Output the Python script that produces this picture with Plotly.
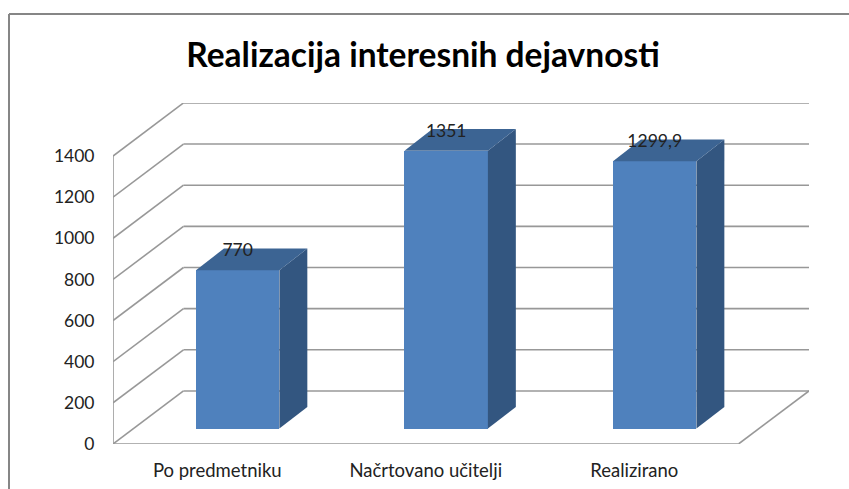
import plotly.graph_objects as go

# Data
categories = ["Po predmetniku", "Načrtovano učitelji", "Realizirano"]
values = [770, 1351, 1299.9]
value_labels = ["770", "1351", "1299,9"]
y_ticks = [0, 200, 400, 600, 800, 1000, 1200, 1400]

# Pseudo-3D projection, in axis units
WALL_DX = 0.338      # back wall shift along x (category units)
WALL_DY = 258        # back wall shift along y (value units)
BAR_DX = 0.098       # bar front plane offset from the axis plane
BAR_DY = 75
BAR_W = 0.40
DEPTH_DX = 0.134
DEPTH_DY = 105
LABEL_DY = 88
GRID = "#989898"
FRONT = "#4F81BD"
TOP = "#3C6493"
SIDE = "#335680"
TEXT = "#222222"
FONT = "Lato, Carlito, Calibri, sans-serif"

W, H = 849, 489
L, R, T, B = 113, 809, 103, 444
x0, x1 = -0.5, 2.5

fig = go.Figure()

# Front faces
fig.add_trace(go.Bar(
    x=[i + BAR_DX for i in range(3)], y=values, base=[BAR_DY] * 3,
    width=BAR_W, marker=dict(color=FRONT, line=dict(width=0)),
    hoverinfo="skip", showlegend=False,
))

# Side and top faces
for i, v in enumerate(values):
    xl = i + BAR_DX - BAR_W / 2
    xr = i + BAR_DX + BAR_W / 2
    b = BAR_DY
    t = BAR_DY + v
    fig.add_trace(go.Scatter(
        x=[xr, xr + DEPTH_DX, xr + DEPTH_DX, xr, xr],
        y=[b, b + DEPTH_DY, t + DEPTH_DY, t, b],
        mode="lines", fill="toself", fillcolor=SIDE, line=dict(width=0),
        hoverinfo="skip", showlegend=False,
    ))
    fig.add_trace(go.Scatter(
        x=[xl, xr, xr + DEPTH_DX, xl + DEPTH_DX, xl],
        y=[t, t, t + DEPTH_DY, t + DEPTH_DY, t],
        mode="lines", fill="toself", fillcolor=TOP, line=dict(width=0),
        hoverinfo="skip", showlegend=False,
    ))

# Data labels
fig.add_trace(go.Scatter(
    x=[i + BAR_DX for i in range(3)],
    y=[v + BAR_DY + LABEL_DY for v in values],
    text=value_labels, mode="text", textposition="middle center",
    textfont=dict(family=FONT, size=17.5, color=TEXT),
    hoverinfo="skip", showlegend=False,
))

# Walls and floor below the marks
line = dict(color=GRID, width=1.6)
shapes = []
def seg(xa, ya, xb, yb):
    shapes.append(dict(type="line", xref="x", yref="y", x0=xa, y0=ya, x1=xb, y1=yb,
                       line=line, layer="below"))
for t in y_ticks:
    seg(x0, t, x0 + WALL_DX, t + WALL_DY)
    seg(x0 + WALL_DX, t + WALL_DY, x1 + WALL_DX, t + WALL_DY)
seg(x0, 0, x0, y_ticks[-1])
seg(x0, 0, x1, 0)
seg(x1, 0, x1 + WALL_DX, WALL_DY)

# Chart frame: only left and top edges fall inside the picture
frame = dict(color="#868686", width=2)
shapes.append(dict(type="line", xref="paper", yref="paper",
                   x0=(9 - 113) / (809 - 113), x1=(900 - 113) / (809 - 113),
                   y0=(444 - 14) / (444 - 103), y1=(444 - 14) / (444 - 103), line=frame, layer="below"))
shapes.append(dict(type="line", xref="paper", yref="paper",
                   x0=(9 - 113) / (809 - 113), x1=(9 - 113) / (809 - 113),
                   y0=(444 - 14) / (444 - 103), y1=(444 - 500) / (444 - 103), line=frame, layer="below"))

fig.update_layout(
    width=W, height=H,
    margin=dict(l=L, r=W - R, t=T, b=H - B, pad=0, autoexpand=False),
    paper_bgcolor="white", plot_bgcolor="white",
    showlegend=False, shapes=shapes, bargap=0,
    title=dict(text="<b>Realizacija interesnih dejavnosti</b>",
               x=423 / W, xanchor="center", xref="container",
               y=1 - 55 / H, yanchor="middle", yref="container",
               font=dict(family=FONT, size=33.5, color="#000000")),
    xaxis=dict(range=[x0, x1 + WALL_DX], tickmode="array", tickvals=[0, 1, 2],
               ticktext=categories, showgrid=False, zeroline=False, showline=False,
               ticks="outside", ticklen=10, tickcolor="rgba(0,0,0,0)", fixedrange=True,
               tickfont=dict(family=FONT, size=18.5, color=TEXT)),
    yaxis=dict(range=[0, 341 / (288 / 1400)], tickmode="array", tickvals=y_ticks,
               showgrid=False, zeroline=False, showline=False,
               ticks="outside", ticklen=14, tickcolor="rgba(0,0,0,0)", fixedrange=True,
               tickfont=dict(family=FONT, size=17.5, color=TEXT)),
    font=dict(family=FONT),
)

fig.write_html("out.html", config={"displayModeBar": False},
               post_script="document.body.style.margin='0';document.body.style.overflow='hidden';")
